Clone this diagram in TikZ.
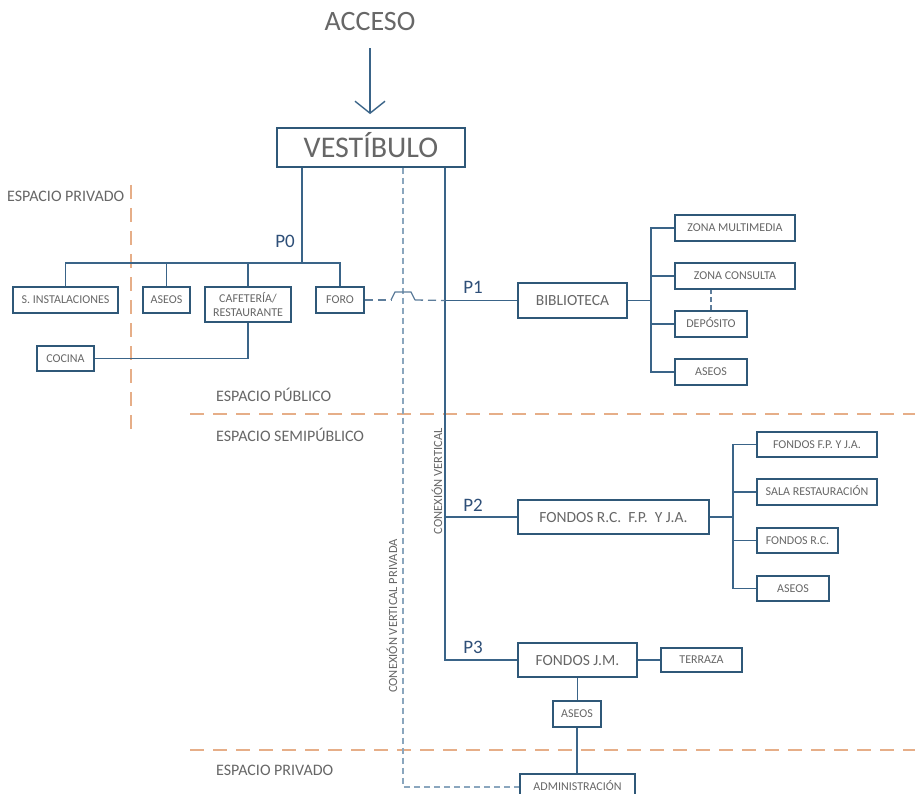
\documentclass[tikz,border=0pt]{standalone}
\usepackage{fontspec}
\setmainfont{Carlito}
\usetikzlibrary{arrows.meta}
\definecolor{boxc}{HTML}{2F5878}
\definecolor{linec}{HTML}{3A6488}
\definecolor{txt}{HTML}{676767}
\definecolor{plab}{HTML}{2E4F78}
\definecolor{orng}{HTML}{E6AE88}
\definecolor{bdash}{HTML}{8AA6BE}
\definecolor{fdash}{HTML}{5D7D9B}
\begin{document}
\begin{tikzpicture}[x=1pt,y=-1pt,
  box/.style={draw=boxc,line width=1.8pt,fill=white,text=txt,inner sep=0pt,align=center},
  sbox/.style={box,font=\fontsize{12}{13}\selectfont,text height=7.7pt,text depth=0pt},
  mbox/.style={box,font=\fontsize{15.5}{17}\selectfont,text height=10pt,text depth=0pt},
  conn/.style={draw=linec,line width=1.4pt},
  plabel/.style={text=plab,font=\fontsize{19}{20}\selectfont,inner sep=0pt},
  zone/.style={text=txt,font=\fontsize{16}{17}\selectfont,anchor=base west,inner sep=0pt},
  divider/.style={draw=orng,line width=1.5pt,dash pattern=on 14pt off 9pt},
  privdash/.style={draw=bdash,line width=1.3pt,dash pattern=on 6pt off 4pt},
  forodash/.style={draw=fdash,line width=1.3pt,dash pattern=on 8pt off 5pt},
  smalldash/.style={draw=fdash,line width=1.2pt,dash pattern=on 5pt off 3pt},
  vlabel/.style={text=txt,font=\fontsize{12.5}{13}\selectfont,rotate=90,inner sep=0pt}
]
\useasboundingbox (0,0) rectangle (915,794);
\fill[white] (0,0) rectangle (915,794);

% dividers
\draw[divider] (131,185) -- (131,434);
\draw[divider] (190,414) -- (915,414);
\draw[divider] (190,750) -- (915,750);

% zone labels
\node[zone] (zpriv1) at (7,202) {ESPACIO PRIVADO};
\node[zone] (zpub) at (216,401) {ESPACIO PÚBLICO};
\node[zone] (zsemi) at (216,441) {ESPACIO SEMIPÚBLICO};
\node[zone] (zpriv2) at (216,775) {ESPACIO PRIVADO};

% top
\node[font=\fontsize{28}{30}\selectfont,text=txt,inner sep=0pt,text height=18pt,text depth=0pt] (acc) at (370,22) {ACCESO};
\node[box,font=\fontsize{30}{32}\selectfont,text height=19.3pt,text depth=0pt,minimum width=188pt,minimum height=39pt] (vest) at (371,147.5) {VESTÍBULO};
\draw[conn,-{Straight Barb[length=12pt,width=30pt]},shorten <=17pt,shorten >=13pt] (acc.south) -- (acc.south |- vest.north);

% P0 level boxes
\node[sbox,minimum width=105pt,minimum height=26pt] (sinst) at (65.5,300) {S. INSTALACIONES};
\node[sbox,minimum width=47pt,minimum height=26pt] (aseos0) at (166.5,300) {ASEOS};
\node[box,font=\fontsize{12}{13.5}\selectfont,minimum width=86pt,minimum height=35pt] (cafe) at (248,304.5) {CAFETERÍA/\\RESTAURANTE};
\node[sbox,minimum width=48pt,minimum height=26pt] (foro) at (340,300) {FORO};
\node[sbox,minimum width=57pt,minimum height=25pt] (cocina) at (65.5,358.5) {COCINA};

% P1 boxes
\node[mbox,minimum width=109pt,minimum height=35pt] (biblio) at (572.5,300.5) {BIBLIOTECA};
\node[sbox,minimum width=120pt,minimum height=26pt] (zm) at (735,228) {ZONA MULTIMEDIA};
\node[sbox,minimum width=120pt,minimum height=26pt] (zc) at (735,276) {ZONA CONSULTA};
\node[sbox,minimum width=72pt,minimum height=26pt] (dep) at (711,324) {DEPÓSITO};
\node[sbox,minimum width=72pt,minimum height=26pt] (aseos1) at (711,372) {ASEOS};

% P2 boxes
\node[mbox,minimum width=191pt,minimum height=34pt] (frc) at (613.5,517) {FONDOS R.C.\ \ F.P.\ \ Y J.A.};
\node[sbox,minimum width=120pt,minimum height=25pt] (ffp) at (817,444.5) {FONDOS F.P. Y J.A.};
\node[sbox,minimum width=120pt,minimum height=26pt] (sala) at (817,492) {SALA RESTAURACIÓN};
\node[sbox,minimum width=81pt,minimum height=25pt] (frc2) at (797.5,540.5) {FONDOS R.C.};
\node[sbox,minimum width=72pt,minimum height=25pt] (aseos2) at (793,588.5) {ASEOS};

% P3 boxes
\node[mbox,minimum width=119pt,minimum height=34pt] (fjm) at (577.5,660) {FONDOS J.M.};
\node[sbox,minimum width=81pt,minimum height=24pt] (terr) at (701.5,660) {TERRAZA};
\node[sbox,minimum width=48pt,minimum height=26pt] (aseos3) at (577,714) {ASEOS};
\node[sbox,minimum width=115pt,minimum height=26pt] (admin) at (577.5,787) {ADMINISTRACIÓN};

% P0 connections
\coordinate (p0) at (302,263);
\draw[conn] (vest.south -| p0) -- (p0);
\draw[conn] (sinst.north) -- (sinst.north |- p0) -- (foro.north |- p0) -- (foro.north);
\draw[conn] (aseos0.north) -- (aseos0.north |- p0);
\draw[conn] (cafe.north) -- (cafe.north |- p0);
\draw[conn] (cocina.east) -| (cafe.south);
\node[plabel] (lp0) at (285,241) {P0};

% trunk
\coordinate (t3) at (445,660);
\draw[conn] (vest.south -| t3) -- (t3) -- (fjm.west);
\draw[conn] (biblio.west) -- (biblio.west -| t3);
\draw[conn] (frc.west) -- (frc.west -| t3);
\node[plabel] (lp1) at (473,287) {P1};
\node[plabel] (lp2) at (473,505) {P2};
\node[plabel] (lp3) at (473,647) {P3};

% private vertical
\coordinate (cv) at (403,787);
\draw[privdash] (vest.south -| cv) -- (cv) -- (admin.west);

% foro link with jump over the private vertical
\coordinate (jl) at (391,300);
\coordinate (jr) at (415,300);
\draw[forodash] (foro.east) -- (jl);
\draw[draw=fdash,line width=1.3pt] (jl) -- ++(4,-8) -- ++(16,0) -- (jr);
\draw[forodash] (jr) -- (biblio.west -| t3);

% biblioteca bus
\coordinate (bb) at (651,300);
\draw[conn] (biblio.east) -- (biblio.east -| bb);
\draw[conn] (zm.west) -- (zm.west -| bb) -- (aseos1.west -| bb) -- (aseos1.west);
\draw[conn] (zc.west) -- (zc.west -| bb);
\draw[conn] (dep.west) -- (dep.west -| bb);
\draw[smalldash] (dep.north) -- (dep.north |- zc.south);

% P2 bus
\coordinate (b2) at (733,517);
\draw[conn] (frc.east) -- (frc.east -| b2);
\draw[conn] (ffp.west) -- (ffp.west -| b2) -- (aseos2.west -| b2) -- (aseos2.west);
\draw[conn] (sala.west) -- (sala.west -| b2);
\draw[conn] (frc2.west) -- (frc2.west -| b2);

% P3
\draw[conn] (fjm.east) -- (terr.west);
\draw[conn] (fjm.south) -- (fjm.south |- aseos3.north);
\draw[conn] (aseos3.south) -- (aseos3.south |- admin.north);

% vertical labels
\node[vlabel] (cvl) at (437,481) {CONEXIÓN VERTICAL};
\node[vlabel] (cvpl) at (392,616) {CONEXIÓN VERTICAL PRIVADA};
\end{tikzpicture}
\end{document}
